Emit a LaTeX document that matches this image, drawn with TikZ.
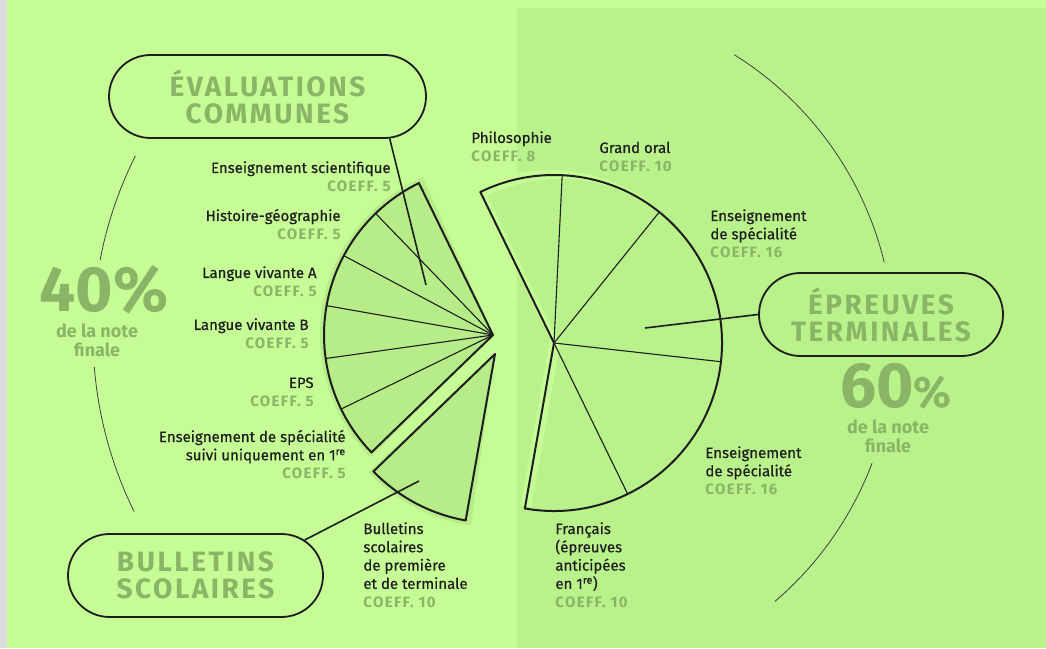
\documentclass[tikz,border=0pt]{standalone}
\usepackage{fontspec}
\setmainfont{Fira Sans}
\newfontfamily\titlefont{Fira Sans}[LetterSpace=9]
\newfontfamily\labelfont{Fira Sans}[FakeBold=0.5]
\usepackage{tikz}
\usepackage{xcolor}
\usetikzlibrary{shapes, arrows, positioning}

\definecolor{limebg}{HTML}{C6FC96}
\definecolor{limepanel}{HTML}{B9F18B}
\definecolor{limeshade}{HTML}{B6ED89}
\definecolor{coeffgray}{HTML}{8AB566}
\definecolor{inkdark}{HTML}{1E1E1E}
\newcommand{\coeff}[1]{{\titlefont\bfseries\color{coeffgray}COEFF.~#1}}

\begin{document}
\begin{tikzpicture}[x=1pt, y=1pt, line width=0.8pt,
    pill/.style={rounded rectangle, draw=inkdark, line width=1.8pt, minimum height=83pt, inner sep=0pt,
        font=\titlefont\bfseries\fontsize{28}{27}\selectfont, text=coeffgray, align=center},
    lbl/.style={inner sep=0pt, font=\labelfont\fontsize{15}{18.3}\selectfont, text=inkdark},
    pct/.style={inner sep=0pt, text depth=0pt, font=\bfseries\fontsize{64}{64}\selectfont, text=coeffgray},
    note/.style={inner sep=0pt, font=\bfseries\fontsize{18}{19}\selectfont, text=coeffgray, align=center},
    wedge/.style={draw=inkdark, line width=2pt, line join=round},
    split/.style={draw=inkdark, line width=1.1pt},
    ring/.style={draw=inkdark!85, line width=0.8pt}]
        \useasboundingbox (0,0) rectangle (1046,648);
        \fill[limebg] (0,0) rectangle (1046,648);
        \fill[black!14] (0,0) rectangle (7,648);
        \fill[limepanel] (517,0) rectangle (1046,640);

        % centres of the three parts
        \coordinate (lc) at (493,313);
        \coordinate (bc) at (495,294);
        \coordinate (rc) at (554,305);

        % evaluations communes
        \fill[limeshade] (lc) -- ++(114:173) arc[start angle=114, end angle=225, radius=173] -- cycle;
        \draw[wedge] (lc) -- ++(116:169) arc[start angle=116, end angle=224, radius=169] -- cycle;
        \foreach \a in {134,152,170,188,206}
            \draw[split] (lc) -- ++(\a:169);

        % bulletins
        \fill[limeshade] (bc) -- ++(223:173) arc[start angle=223, end angle=262, radius=173] -- cycle;
        \draw[wedge] (bc) -- ++(224:169) arc[start angle=224, end angle=260, radius=169] -- cycle;

        % epreuves terminales
        \fill[limebg] ([shift={(-4,4)}]rc) -- ++(-100:169) arc[start angle=-100, end angle=116, radius=169] -- cycle;
        \fill[limepanel] ([shift={(6,-2)}]rc) -- ++(-100:166) arc[start angle=-100, end angle=116, radius=166] -- cycle;
        \draw[wedge] (rc) -- ++(-100:168) arc[start angle=-100, end angle=116, radius=168] -- cycle;
        \foreach \a in {-64,-6.4,51.2,87.2}
            \draw[split] (rc) -- ++(\a:168);

        % outer arcs
        \draw[ring] (lc) ++(153.4:400) arc[start angle=153.4, end angle=169.2, radius=400];
        \draw[ring] (lc) ++(184.6:400) arc[start angle=184.6, end angle=206.2, radius=400];
        \draw[ring] (rc) ++(58:340) arc[start angle=58, end angle=13.7, radius=340];
        \draw[ring] (rc) ++(-20.7:340) arc[start angle=-20.7, end angle=-49.5, radius=340];

        % labels (anchored on the baseline of their last line)
        \node[lbl, anchor=base east, align=right] (sci) at (391,456.7) {Enseignement scientifique\\\coeff{5}};
        \node[lbl, anchor=base east, align=right] (histgeo) at (341,408.7) {Histoire-géographie\\\coeff{5}};
        \node[lbl, anchor=base east, align=right] (lva) at (317,351.7) {Langue vivante A\\\coeff{5}};
        \node[lbl, anchor=base east, align=right] (lvb) at (309,299.7) {Langue vivante B\\\coeff{5}};
        \node[lbl, anchor=base east, align=right] (eps) at (314,241.7) {EPS\\\coeff{5}};
        \node[lbl, anchor=base east, align=right] (spefirst) at (346,169.4) {Enseignement de spécialité\\suivi uniquement en 1\textsuperscript{re}\\\coeff{5}};
        \node[lbl, anchor=base west, align=left] (bulltext) at (363,40.8) {Bulletins\\scolaires\\de première\\et de terminale\\\coeff{10}};
        \node[lbl, anchor=base west, align=left] (philo) at (471,486.7) {Philosophie\\\coeff{8}};
        \node[lbl, anchor=base west, align=left] (oral) at (599,476.7) {Grand oral\\\coeff{10}};
        \node[lbl, anchor=base west, align=left] (spetop) at (710,390.4) {Enseignement\\de spécialité\\\coeff{16}};
        \node[lbl, anchor=base west, align=left] (spebottom) at (705,153.4) {Enseignement\\de spécialité\\\coeff{16}};
        \node[lbl, anchor=base west, align=left] (francais) at (555,40.8) {Français\\(épreuves\\anticipées\\en 1\textsuperscript{re})\\\coeff{10}};

        % percentages
        \node[pct, anchor=base] (forty) at (104,336) {40\%};
        \node[note] (fortynote) at (97,308) {de la note\\finale};
        \node[pct, anchor=base] (sixty) at (896,240) {60{\fontsize{44}{44}\selectfont\%}};
        \node[note] (sixtynote) at (888,212) {de la note\\finale};

        % boxes
        \node[pill, minimum width=317pt] (evaluations) at (267.5,551.5) {ÉVALUATIONS\\COMMUNES};
        \node[pill, minimum width=255pt] (bulletins) at (195.5,72.5) {BULLETINS\\SCOLAIRES};
        \node[pill, minimum width=244pt] (epreuves) at (881,333.5) {ÉPREUVES\\TERMINALES};

        \coordinate (evaltip) at (426,363);
        \coordinate (bulltip) at (419,167);
        \coordinate (eprtip) at (645,320);
        \draw[line width=1.6pt, inkdark] (evaluations.-19) -- (evaltip);
        \draw[line width=1.6pt, inkdark] (bulletins.18) -- (bulltip);
        \draw[line width=1.6pt, inkdark] (epreuves.west) -- (eprtip);
    \end{tikzpicture}
\end{document}
